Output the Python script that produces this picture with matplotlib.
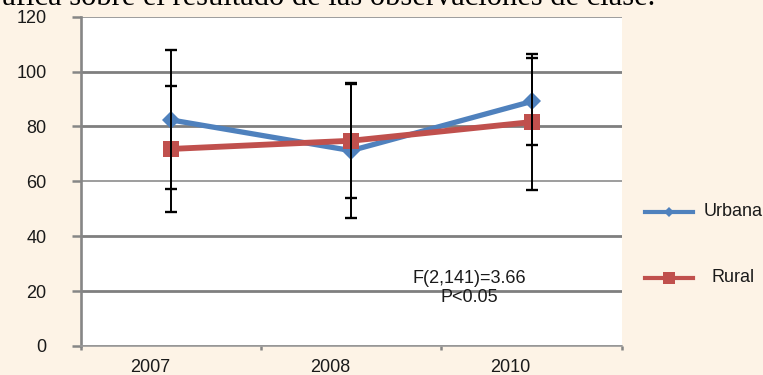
import numpy as np
import matplotlib
matplotlib.use("Agg")
import matplotlib.pyplot as plt
import matplotlib.transforms as mtransforms
from matplotlib.lines import Line2D

years = ["2007", "2008", "2010"]
urbana_mean = [82.4, 71.2, 89.1]
urbana_sd = [25.3, 24.5, 15.7]
rural_mean = [71.8, 74.8, 81.6]
rural_sd = [23.0, 20.7, 24.8]
y_ticks = [0, 20, 40, 60, 80, 100, 120]
title = "Gráfica sobre el resultado de las observaciones de clase."
stats_text = "F(2,141)=3.66\nP<0.05"

BG = "#FDF3E6"
BLUE = "#4F81BD"
RED = "#C0504D"
GRID = "#7F7F7F"
TXT = "#1A1A1A"

plt.rcParams["font.family"] = ["Liberation Sans", "DejaVu Sans"]
plt.rcParams["font.size"] = 13

W, H = 763, 375
fig = plt.figure(figsize=(W / 100, H / 100), dpi=100, facecolor=BG)
ax = fig.add_axes([80.5 / W, (H - 346) / H, (621.7 - 80.5) / W, (346 - 16.7) / H])
ax.set_facecolor("white")

x = np.arange(len(years))
ax.plot(x, urbana_mean, color=BLUE, lw=3.8, marker="D", ms=9, mew=0, zorder=3)
ax.plot(x, rural_mean, color=RED, lw=4.2, marker="s", ms=12, mew=0, zorder=4)
for mean, sd in ((urbana_mean, urbana_sd), (rural_mean, rural_sd)):
    ax.errorbar(x, mean, yerr=sd, fmt="none", ecolor="black", elinewidth=1.4,
                capsize=4, capthick=1.7, zorder=5)

ax.set_xlim(-0.5, len(years) - 0.5)
ax.set_ylim(0, 120)

# y axis
ax.set_yticks(y_ticks)
ax.yaxis.grid(True, color=GRID, lw=2.0)
for val, gl in zip(y_ticks, ax.get_ygridlines()):
    if val in (60, 120):
        gl.set_linewidth(1.2)
        gl.set_color("#8C8C8C")
ax.set_axisbelow(True)
ax.tick_params(axis="y", direction="out", length=6.5, width=1.8, color="#868686",
               pad=18, labelcolor=TXT, labelsize=13)

# x axis: labels on categories, ticks on boundaries
ax.set_xticks(x)
ax.set_xticklabels(years)
ax.set_xticks(np.arange(len(years) + 1) - 0.5, minor=True)
ax.tick_params(axis="x", which="major", length=0, pad=9, labelcolor=TXT, labelsize=13)
ax.tick_params(axis="x", which="minor", direction="out", length=3, width=1.8,
               color="#868686")
shift = mtransforms.ScaledTranslation(-21 / 100, 0, fig.dpi_scale_trans)
for lbl in ax.get_xticklabels():
    lbl.set_transform(lbl.get_transform() + shift)

for s in ("top", "right"):
    ax.spines[s].set_visible(False)
ax.spines["left"].set_color("#868686")
ax.spines["left"].set_linewidth(1.9)
ax.spines["bottom"].set_color("#9A9A9A")
ax.spines["bottom"].set_linewidth(1.2)

ax.text(1.655, 21.2, stats_text, ha="center", va="center", multialignment="center",
        fontsize=13, color=TXT, linespacing=1.15)

# title, cut by the top edge
fig.text(655 / W, 1 - 5 / H, title, ha="right", va="baseline", fontsize=22,
         family="Liberation Serif", color="black")

# legend
for label, color, marker, ms, ypix in (("Urbana", BLUE, "D", 5.5, 212),
                                       ("Rural", RED, "s", 8, 278)):
    yy = 1 - ypix / H
    fig.add_artist(Line2D([645 / W, 669 / W, 693 / W], [yy, yy, yy], color=color, lw=3,
                          marker=marker, ms=ms, mew=0, markevery=[1],
                          transform=fig.transFigure))
    fig.text(733 / W, yy, label, ha="center", va="center", fontsize=13, color=TXT)

fig.savefig("out.png", dpi=100, facecolor=BG)
